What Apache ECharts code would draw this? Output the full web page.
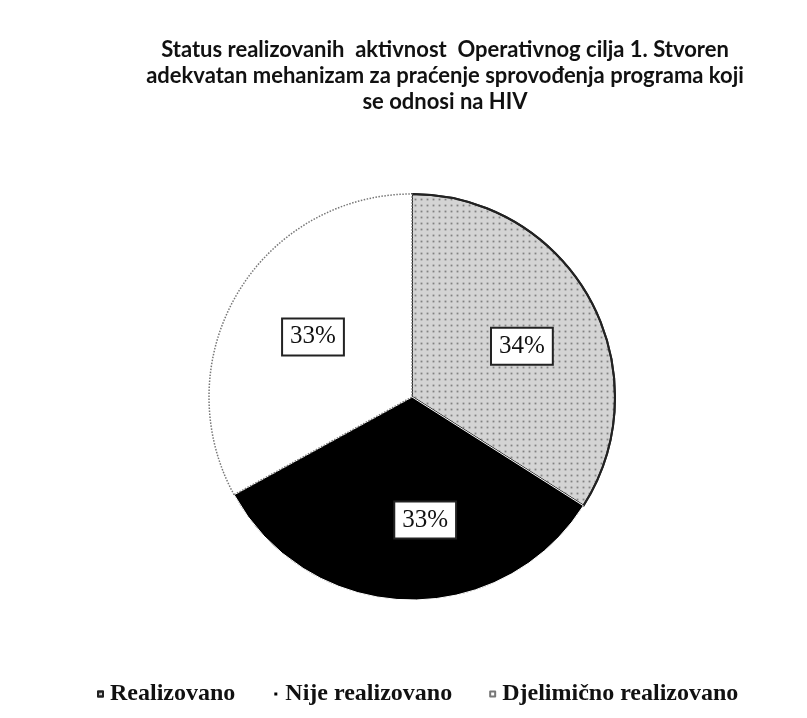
<!DOCTYPE html>
<html>
<head>
<meta charset="utf-8">
<script src="https://cdn.jsdelivr.net/npm/echarts@6/dist/echarts.min.js"></script>
<style>
  html, body { margin: 0; padding: 0; background: #fff; }
  #chart { width: 807px; height: 718px; }
</style>
</head>
<body>
<div id="chart"></div>
<script>
// data
const titleLines = [
  'Status realizovanih  aktivnost  Operativnog cilja 1. Stvoren',
  'adekvatan mehanizam za praćenje sprovođenja programa koji',
  'se odnosi na HIV'
]
const categories = ['Realizovano', 'Nije realizovano', 'Djelimično realizovano']
const shares = [34, 33, 33]

const sliceStyles = [
  {
    color: '#d4d4d4',
    borderColor: '#222',
    borderWidth: 2,
    decal: { symbol: 'rect', symbolSize: 0.6, color: 'rgba(60,60,60,0.55)', dashArrayX: 3, dashArrayY: 3 }
  },
  { color: '#000', borderColor: '#fff', borderWidth: 1 },
  { color: '#fff', borderColor: '#777', borderWidth: 1.5, borderType: 'dotted' }
]
// small nudges of the percentage boxes, as placed in the original
const labelNudges = [[3, 8], [17, 1], [6, 2]]

const myChart = echarts.init(document.getElementById('chart'))

const option = {
  backgroundColor: '#fff',
  animation: false,
  title: {
    text: titleLines.join('\n'),
    left: 440,
    top: 32,
    textAlign: 'center',
    textStyle: {
      fontFamily: 'Lato',
      fontWeight: 'bold',
      fontSize: 22,
      lineHeight: 26,
      color: '#111'
    }
  },
  legend: {
    data: categories,
    left: 92,
    top: 677,
    icon: 'rect',
    itemWidth: 5,
    itemHeight: 5,
    itemGap: 37,
    textStyle: {
      fontFamily: 'Liberation Serif',
      fontWeight: 'bold',
      fontSize: 24,
      color: '#111',
      padding: [0, 0, 0, 2]
    }
  },
  series: [
    {
      name: 'status',
      type: 'pie',
      center: [412, 397],
      radius: [0, 203],
      startAngle: 90,
      clockwise: true,
      label: { show: false },
      labelLine: { show: false },
      data: categories.map((name, i) => ({
        name: name,
        value: shares[i],
        itemStyle: sliceStyles[i]
      }))
    },
    {
      // transparent copy, only to place the percentage boxes a bit further out
      name: 'labels',
      type: 'pie',
      silent: true,
      center: [412, 397],
      radius: [0, 238],
      startAngle: 90,
      clockwise: true,
      itemStyle: { color: 'rgba(0,0,0,0)' },
      labelLine: { show: false },
      label: {
        show: true,
        position: 'inside',
        formatter: '{d}%',
        fontFamily: 'Liberation Serif',
        fontSize: 25,
        color: '#111',
        backgroundColor: '#fff',
        borderColor: '#222',
        borderWidth: 2,
        padding: [6, 7, 4, 7]
      },
      data: categories.map((name, i) => ({
        name: name,
        value: shares[i],
        label: { offset: labelNudges[i] }
      }))
    }
  ]
}

myChart.setOption(option)

window.addEventListener('resize', () => { myChart.resize() })
</script>
</body>
</html>
